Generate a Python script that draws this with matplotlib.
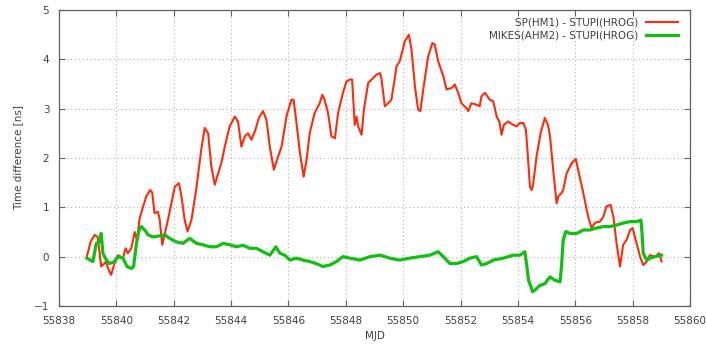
import matplotlib
matplotlib.use("Agg")
import matplotlib.pyplot as plt

# SP(HM1) - STUPI(HROG)
red_mjd = [55838.97, 55839.10, 55839.24, 55839.35, 55839.47, 55839.58, 55839.64, 55839.72, 55839.82,
           55839.93, 55840.06, 55840.23, 55840.32, 55840.40, 55840.52, 55840.64, 55840.72, 55840.81,
           55841.04, 55841.18, 55841.25, 55841.33, 55841.45, 55841.51, 55841.60, 55841.69, 55841.80,
           55841.92, 55842.04, 55842.18, 55842.27, 55842.38, 55842.48, 55842.62, 55842.78, 55842.96,
           55843.08, 55843.20, 55843.31, 55843.43, 55843.55, 55843.66, 55843.78, 55843.95, 55844.13,
           55844.24, 55844.36, 55844.48, 55844.59, 55844.71, 55844.83, 55844.97, 55845.11, 55845.23,
           55845.35, 55845.49, 55845.64, 55845.76, 55845.93, 55846.10, 55846.18, 55846.28, 55846.40,
           55846.53, 55846.63, 55846.74, 55846.91, 55847.09, 55847.18, 55847.26, 55847.38, 55847.50,
           55847.62, 55847.73, 55847.90, 55848.02, 55848.14, 55848.22, 55848.31, 55848.37, 55848.43,
           55848.55, 55848.63, 55848.78, 55848.95, 55849.07, 55849.19, 55849.24, 55849.36, 55849.48,
           55849.59, 55849.77, 55849.88, 55850.06, 55850.20, 55850.29, 55850.41, 55850.52, 55850.60,
           55850.70, 55850.87, 55851.02, 55851.10, 55851.22, 55851.40, 55851.51, 55851.69, 55851.80,
           55851.92, 55852.03, 55852.21, 55852.27, 55852.38, 55852.56, 55852.67, 55852.73, 55852.85,
           55853.02, 55853.14, 55853.26, 55853.35, 55853.43, 55853.51, 55853.66, 55853.84, 55853.95,
           55854.07, 55854.19, 55854.28, 55854.34, 55854.42, 55854.48, 55854.53, 55854.65, 55854.79,
           55854.94, 55855.05, 55855.12, 55855.23, 55855.35, 55855.41, 55855.52, 55855.58, 55855.70,
           55855.88, 55856.02, 55856.10, 55856.28, 55856.45, 55856.57, 55856.69, 55856.86, 55856.98,
           55857.09, 55857.23, 55857.33, 55857.44, 55857.56, 55857.67, 55857.79, 55857.91, 55858.00,
           55858.14, 55858.26, 55858.37, 55858.49, 55858.60, 55858.78, 55858.93, 55859.01]
red_val = [0.00, 0.30, 0.44, 0.40, -0.20, -0.14, -0.10, -0.25, -0.37,
           -0.14, 0.03, -0.03, 0.17, 0.07, 0.17, 0.50, 0.33, 0.78,
           1.22, 1.35, 1.30, 0.88, 0.91, 0.75, 0.24, 0.47, 0.75,
           1.08, 1.42, 1.49, 1.22, 0.75, 0.51, 0.75, 1.35, 2.17,
           2.61, 2.50, 1.83, 1.46, 1.69, 1.90, 2.23, 2.64, 2.84,
           2.74, 2.23, 2.44, 2.50, 2.37, 2.54, 2.81, 2.95, 2.78,
           2.23, 1.76, 2.03, 2.23, 2.84, 3.18, 3.18, 2.71, 2.10,
           1.62, 1.96, 2.50, 2.91, 3.11, 3.28, 3.18, 2.91, 2.44,
           2.40, 2.91, 3.32, 3.55, 3.59, 3.59, 2.67, 2.84, 2.64,
           2.47, 2.98, 3.52, 3.62, 3.69, 3.72, 3.62, 3.05, 3.11,
           3.18, 3.86, 3.96, 4.37, 4.50, 4.20, 3.45, 2.98, 2.95,
           3.39, 4.06, 4.33, 4.30, 3.96, 3.66, 3.39, 3.42, 3.49,
           3.32, 3.11, 3.01, 2.95, 3.11, 3.08, 3.05, 3.25, 3.32,
           3.18, 3.15, 2.84, 2.74, 2.47, 2.67, 2.74, 2.67, 2.64,
           2.71, 2.71, 2.57, 2.10, 1.42, 1.35, 1.46, 2.03, 2.50,
           2.81, 2.67, 2.44, 1.76, 1.08, 1.22, 1.29, 1.35, 1.69,
           1.90, 1.98, 1.76, 1.29, 0.81, 0.58, 0.69, 0.71, 0.81,
           1.02, 1.05, 0.81, 0.27, -0.20, 0.24, 0.34, 0.54, 0.58,
           0.27, 0.00, -0.17, -0.10, 0.03, 0.00, 0.07, -0.10]

# MIKES(AHM2) - STUPI(HROG)
green_mjd = [55838.97, 55839.18, 55839.30, 55839.41, 55839.47, 55839.53, 55839.65, 55839.76, 55839.93,
             55840.06, 55840.23, 55840.37, 55840.52, 55840.60, 55840.70, 55840.79, 55840.87, 55840.99,
             55841.11, 55841.28, 55841.51, 55841.69, 55841.86, 55842.09, 55842.32, 55842.56, 55842.79,
             55843.02, 55843.26, 55843.49, 55843.72, 55843.95, 55844.18, 55844.42, 55844.65, 55844.88,
             55845.11, 55845.35, 55845.56, 55845.70, 55845.87, 55846.05, 55846.28, 55846.51, 55846.74,
             55846.97, 55847.20, 55847.44, 55847.67, 55847.90, 55848.14, 55848.49, 55848.84, 55849.19,
             55849.53, 55849.88, 55850.23, 55850.58, 55850.93, 55851.22, 55851.40, 55851.63, 55851.86,
             55852.09, 55852.33, 55852.56, 55852.73, 55852.91, 55853.14, 55853.49, 55853.84, 55854.07,
             55854.24, 55854.30, 55854.37, 55854.51, 55854.59, 55854.77, 55854.94, 55855.12, 55855.29,
             55855.47, 55855.52, 55855.58, 55855.67, 55855.81, 55856.05, 55856.28, 55856.51, 55856.74,
             55856.98, 55857.21, 55857.44, 55857.67, 55857.91, 55858.14, 55858.29, 55858.33, 55858.37,
             55858.49, 55858.60, 55858.78, 55859.01]
green_val = [-0.03, -0.10, 0.27, 0.30, 0.47, 0.07, -0.07, -0.14, -0.10,
             0.00, -0.03, -0.20, -0.24, -0.20, 0.27, 0.54, 0.61, 0.54,
             0.44, 0.40, 0.42, 0.44, 0.37, 0.30, 0.27, 0.37, 0.27,
             0.24, 0.20, 0.20, 0.27, 0.24, 0.20, 0.23, 0.17, 0.17,
             0.10, 0.03, 0.20, 0.07, 0.03, -0.07, -0.03, -0.07, -0.10,
             -0.14, -0.20, -0.17, -0.10, 0.00, -0.03, -0.07, 0.00, 0.03,
             -0.03, -0.07, -0.03, 0.00, 0.03, 0.10, 0.00, -0.14, -0.14,
             -0.10, -0.03, 0.00, -0.17, -0.14, -0.07, -0.03, 0.03, 0.03,
             0.10, -0.14, -0.47, -0.71, -0.68, -0.58, -0.55, -0.41, -0.48,
             -0.51, -0.20, 0.34, 0.51, 0.47, 0.47, 0.54, 0.54, 0.58,
             0.61, 0.61, 0.64, 0.68, 0.71, 0.71, 0.74, 0.47, 0.07,
             -0.07, -0.03, 0.00, 0.03]

x_ticks = list(range(55838, 55861, 2))
y_ticks = [-1, 0, 1, 2, 3, 4, 5]

txt = "#404040"
plt.rcParams['font.family'] = ['DejaVu Sans']
fig = plt.figure(figsize=(7.06, 3.44), dpi=100)
ax = fig.add_axes([0.0836, 0.1105, 0.8937, 0.8605])

ax.plot(red_mjd, red_val, color="#ff2a0a", lw=1.5, label="SP(HM1) - STUPI(HROG)", zorder=3)
ax.plot(green_mjd, green_val, color="#10c010", lw=2.3, label="MIKES(AHM2) - STUPI(HROG)", zorder=4)

ax.set_xlim(55838, 55860)
ax.set_ylim(-1, 5)
ax.set_xticks(x_ticks)
ax.set_yticks(y_ticks)
ax.set_xticklabels([str(t) for t in x_ticks])
ax.grid(True, linestyle=(0, (1, 2.5)), color="#b0b0b0", lw=0.8)
ax.tick_params(direction="in", top=True, right=True, length=4, width=0.8,
               colors="#606060", labelcolor=txt, labelsize=7.5, pad=7)
for s in ax.spines.values():
    s.set_color("#606060")
    s.set_linewidth(0.9)

ax.set_xlabel("MJD", color=txt, fontsize=7.5, labelpad=4)
ax.set_ylabel("Time difference [ns]", color=txt, fontsize=7.5, labelpad=8)

leg = ax.legend(loc="upper right", frameon=False, markerfirst=False, fontsize=7.5,
                handlelength=3.0, handletextpad=0.8, labelspacing=0.35,
                borderaxespad=0.3, borderpad=0.4, labelcolor=txt)
leg.set_bbox_to_anchor((0.992, 1.0), transform=ax.transAxes)
fig.savefig("out.png", dpi=100)
